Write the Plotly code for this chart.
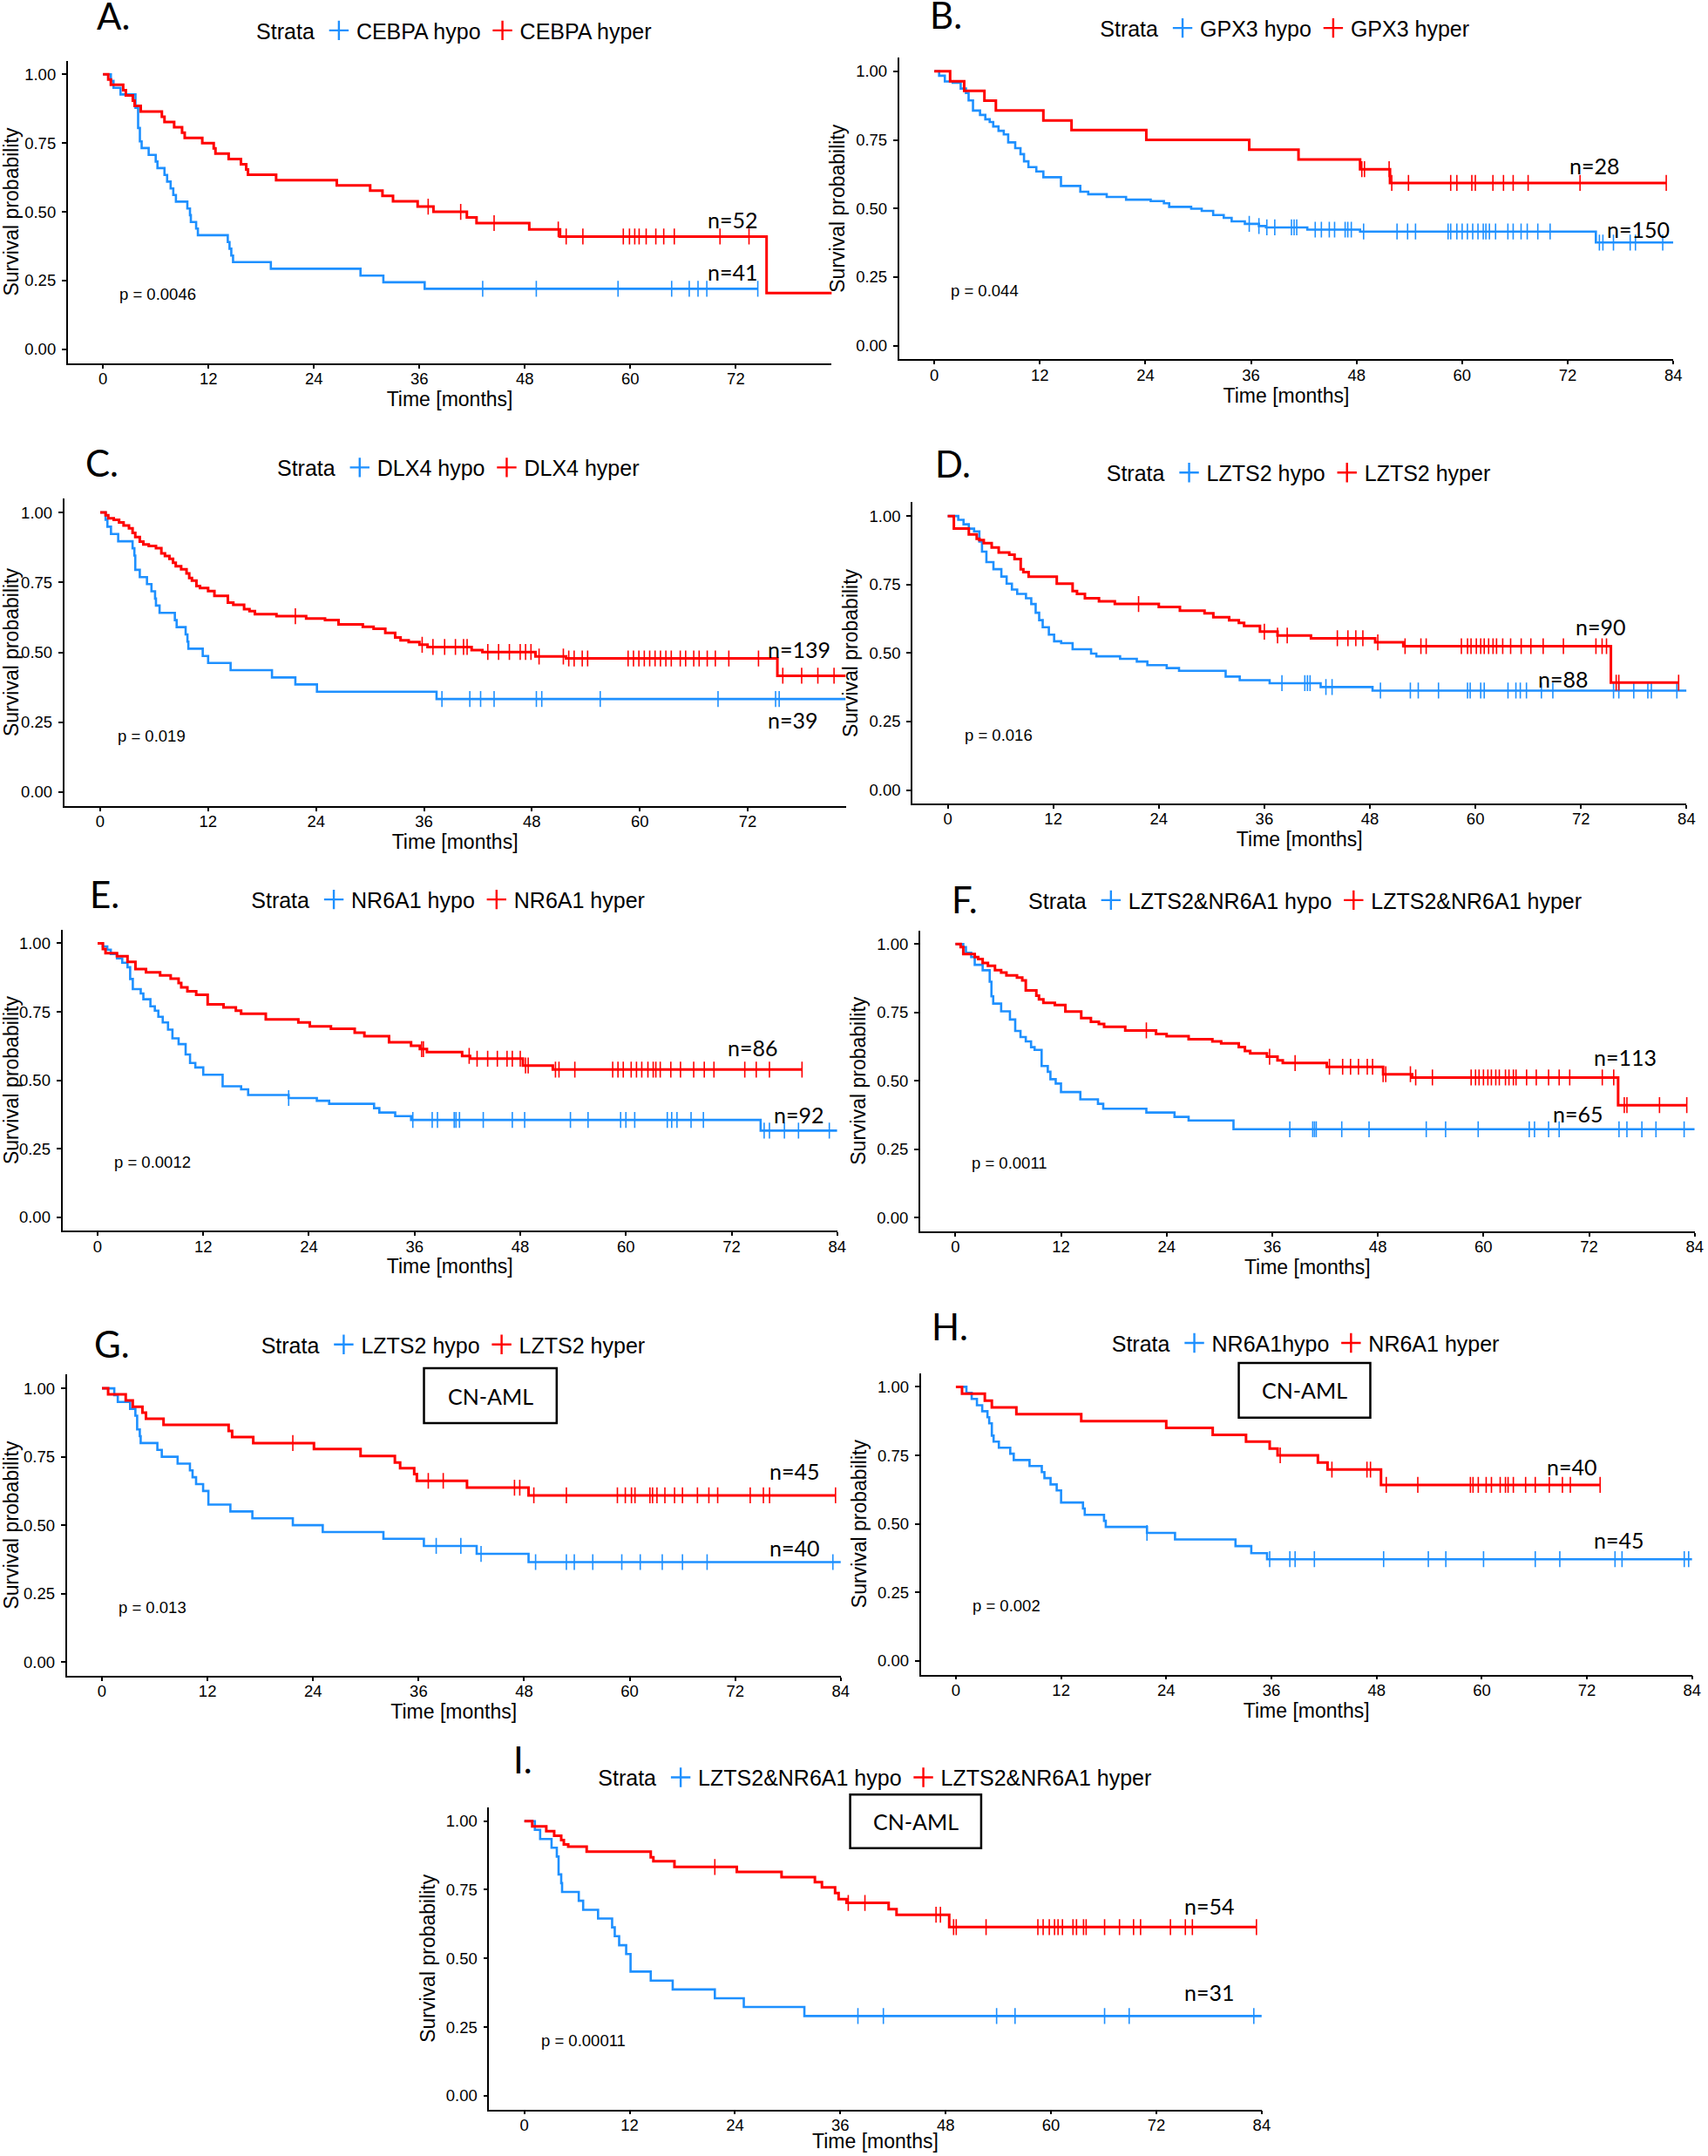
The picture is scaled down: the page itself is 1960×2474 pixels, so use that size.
import plotly.graph_objects as go

# ---------------- data (time in months, survival probability) ----------------
# A. CEBPA
a_hypo_t = [0, 0.9, 1.2, 2.0, 3.7, 4.0, 4.2, 4.4, 5.2, 6.0, 6.2, 7.0, 7.3, 7.7, 8.0, 8.3, 9.6, 9.9, 10.0,
            10.6, 10.8, 14.2, 14.4, 14.6, 14.8, 19.1, 29.3, 31.9, 36.6, 74.5]
a_hypo_s = [1.0, 0.976, 0.951, 0.927, 0.878, 0.805, 0.756, 0.732, 0.707, 0.683, 0.659, 0.634, 0.61, 0.585,
            0.561, 0.537, 0.512, 0.488, 0.463, 0.439, 0.415, 0.39, 0.366, 0.341, 0.317, 0.293, 0.268, 0.244,
            0.22, 0.22]
a_hypo_cens = [43.2, 49.3, 58.6, 64.7, 66.7, 67.7, 68.7, 74.5]
a_hyper_t = [0, 0.6, 0.9, 2.3, 2.6, 3.4, 3.6, 4.3, 6.7, 7.0, 8.1, 9.0, 9.3, 11.3, 12.6, 12.8, 14.3, 15.7, 16.3,
             16.5, 19.7, 26.6, 30.4, 31.8, 33.0, 35.8, 37.6, 41.4, 42.5, 48.5, 52.0, 75.5, 83.0]
a_hyper_s = [1.0, 0.981, 0.962, 0.942, 0.923, 0.904, 0.885, 0.865, 0.846, 0.827, 0.808, 0.788, 0.769, 0.75,
             0.731, 0.712, 0.692, 0.673, 0.654, 0.635, 0.615, 0.596, 0.577, 0.558, 0.538, 0.519, 0.50, 0.48,
             0.459, 0.436, 0.41, 0.205, 0.205]
a_hyper_cens = [37.0, 40.7, 44.5, 51.8, 52.7, 54.6, 59.2, 59.9, 60.5, 61.0, 61.8, 62.9, 63.8, 65.0, 70.2, 73.5]

# B. GPX3
b_hypo_t = [0, 0.55, 1.2, 2.1, 3.0, 3.6, 3.9, 4.4, 5.2, 5.8, 6.3, 6.7, 7.3, 7.9, 8.4, 9.2, 9.8, 10.2, 10.7,
            11.6, 12.4, 14.4, 16.6, 17.5, 19.6, 21.8, 24.6, 26.1, 26.7, 29.2, 30.4, 31.7, 32.9, 33.8, 35.3,
            36.9, 37.7, 42.4, 48.4, 75.2, 84]
b_hypo_s = [1.0, 0.984, 0.963, 0.958, 0.937, 0.921, 0.894, 0.857, 0.841, 0.825, 0.815, 0.799, 0.783, 0.770,
            0.741, 0.720, 0.698, 0.672, 0.651, 0.635, 0.614, 0.582, 0.561, 0.552, 0.542, 0.532, 0.527, 0.519,
            0.506, 0.499, 0.491, 0.476, 0.466, 0.453, 0.444, 0.436, 0.431, 0.423, 0.416, 0.376, 0.376]
b_hypo_cens = [35.8, 36.9, 37.8, 38.7, 40.6, 40.9, 41.2, 43.3, 44.0, 44.9, 45.5, 46.7, 47.0, 47.4, 48.8, 52.6,
               53.8, 54.7, 58.4, 58.7, 59.4, 60.0, 60.6, 61.2, 61.8, 62.4, 62.7, 63.1, 63.8, 65.2, 65.8, 66.7,
               67.4, 68.6, 70.0, 75.6, 76.0, 77.2, 79.1, 79.7, 82.8]
b_hyper_t = [0, 1.8, 3.4, 5.7, 7.0, 12.4, 15.6, 24.1, 35.8, 41.4, 48.4, 51.8, 83.2]
b_hyper_s = [1.0, 0.964, 0.929, 0.893, 0.857, 0.821, 0.786, 0.75, 0.714, 0.679, 0.643, 0.593, 0.593]
b_hyper_cens = [48.6, 48.9, 51.7, 52.0, 53.9, 58.7, 59.4, 61.1, 61.5, 63.5, 64.7, 65.8, 67.5, 73.4, 83.2]

# C. DLX4
c_hypo_t = [0, 0.6, 0.8, 1.2, 2.0, 3.6, 3.8, 3.9, 4.4, 5.2, 5.7, 6.1, 6.2, 6.6, 8.3, 8.5, 9.5, 9.7, 9.8,
            11.4, 12.0, 14.5, 19.1, 21.7, 24.1, 37.4, 82.9]
c_hypo_s = [1.0, 0.974, 0.949, 0.923, 0.897, 0.872, 0.846, 0.795, 0.769, 0.744, 0.718, 0.692, 0.667, 0.641,
            0.615, 0.59, 0.564, 0.538, 0.513, 0.487, 0.462, 0.436, 0.41, 0.385, 0.359, 0.333, 0.333]
c_hypo_cens = [38.0, 41.1, 42.3, 43.8, 48.5, 49.1, 55.6, 68.7, 75.1, 75.5]
c_hyper_t = [0, 0.6, 0.9, 1.5, 2.1, 2.6, 3.2, 3.6, 3.9, 4.4, 4.8, 5.4, 6.2, 6.8, 7.2, 7.7, 8.1, 8.4, 9.0, 9.6,
             9.9, 10.2, 10.7, 11.1, 12.0, 12.7, 14.2, 14.8, 16.0, 16.6, 17.2, 19.6, 22.9, 25.0, 26.5, 29.2,
             30.4, 31.7, 32.8, 33.4, 34.3, 35.5, 36.4, 41.3, 42.5, 48.4, 51.8, 75.3, 82.9]
c_hyper_s = [1.0, 0.990, 0.979, 0.974, 0.964, 0.953, 0.943, 0.927, 0.912, 0.896, 0.886, 0.880, 0.872, 0.854,
             0.844, 0.834, 0.820, 0.808, 0.797, 0.782, 0.766, 0.756, 0.737, 0.730, 0.719, 0.702, 0.678, 0.670,
             0.654, 0.647, 0.636, 0.629, 0.621, 0.615, 0.600, 0.591, 0.584, 0.569, 0.553, 0.543, 0.537, 0.527,
             0.519, 0.508, 0.501, 0.485, 0.478, 0.416, 0.416]
c_hyper_cens = [21.7, 35.8, 37.0, 38.3, 39.5, 40.4, 40.8, 43.1, 44.3, 45.5, 46.7, 47.3, 47.9, 48.8, 51.5, 52.1,
                52.7, 53.6, 54.2, 58.7, 59.3, 59.9, 60.5, 61.1, 61.7, 62.3, 62.9, 63.5, 64.5, 65.1, 66.0, 66.6,
                67.5, 68.4, 69.9, 73.2, 75.9, 78.0, 79.8, 81.6]

# D. LZTS2
d_hypo_t = [0, 1.2, 1.8, 2.4, 3.0, 3.6, 3.9, 4.4, 5.2, 6.1, 6.7, 7.3, 7.9, 8.9, 9.5, 10.0, 10.4, 10.8, 11.5,
            12.1, 12.9, 14.2, 16.3, 16.9, 19.6, 21.5, 22.7, 24.9, 26.3, 31.6, 33.2, 36.6, 42.4, 48.3, 84]
d_hypo_s = [1.0, 0.986, 0.970, 0.954, 0.944, 0.907, 0.870, 0.832, 0.806, 0.779, 0.753, 0.732, 0.716, 0.700,
            0.679, 0.647, 0.620, 0.594, 0.567, 0.543, 0.536, 0.514, 0.498, 0.488, 0.479, 0.469, 0.456, 0.445,
            0.435, 0.414, 0.401, 0.390, 0.376, 0.363, 0.363]
d_hypo_cens = [38.0, 40.6, 40.9, 41.2, 43.0, 43.7, 49.2, 52.6, 53.5, 55.8, 59.1, 59.4, 60.6, 61.0, 63.7, 64.6,
               65.1, 65.8, 67.5, 68.8, 75.7, 76.3, 78.0, 79.6, 80.0, 82.9]
d_hyper_t = [0, 0.7, 2.4, 3.3, 3.6, 4.1, 5.0, 5.8, 7.0, 7.6, 8.3, 8.6, 9.2, 12.4, 14.2, 14.7, 15.6, 17.2, 19.0,
             24.0, 26.4, 29.2, 30.2, 32.0, 33.1, 33.7, 35.5, 37.5, 41.3, 48.6, 51.8, 75.4, 83.1]
d_hyper_s = [1.0, 0.954, 0.933, 0.917, 0.912, 0.901, 0.885, 0.867, 0.859, 0.843, 0.806, 0.795, 0.779, 0.753,
             0.726, 0.716, 0.700, 0.689, 0.679, 0.668, 0.655, 0.645, 0.631, 0.620, 0.610, 0.599, 0.578, 0.564,
             0.554, 0.539, 0.525, 0.392, 0.392]
d_hyper_cens = [21.7, 36.0, 37.5, 38.6, 44.3, 45.5, 46.4, 47.2, 48.9, 52.0, 53.8, 54.4, 58.4, 59.1, 59.5, 60.1,
                60.6, 61.0, 61.5, 62.0, 62.4, 63.1, 64.0, 65.2, 66.3, 67.7, 70.0, 73.7, 74.4, 74.9, 76.0, 76.3,
                83.1]

# E. NR6A1
e_hypo_t = [0, 0.6, 1.1, 1.5, 2.2, 2.8, 3.4, 3.7, 4.0, 4.9, 5.2, 6.0, 6.5, 6.9, 7.4, 8.0, 8.5, 9.2, 10.0, 10.5,
            11.1, 12.0, 14.2, 16.3, 17.1, 21.7, 24.9, 26.3, 31.4, 32.0, 33.8, 35.6, 75.3, 84]
e_hypo_s = [1.0, 0.989, 0.977, 0.961, 0.945, 0.929, 0.913, 0.870, 0.833, 0.817, 0.796, 0.770, 0.754, 0.732,
            0.711, 0.685, 0.653, 0.632, 0.594, 0.563, 0.547, 0.520, 0.478, 0.467, 0.446, 0.435, 0.425, 0.414,
            0.398, 0.382, 0.369, 0.355, 0.316, 0.316]
e_hypo_cens = [21.7, 35.8, 38.0, 38.6, 40.5, 40.7, 41.1, 43.8, 47.1, 48.5, 53.7, 55.7, 59.4, 60.0, 61.0, 64.7,
               65.2, 65.8, 67.4, 68.8, 75.7, 76.3, 78.0, 79.6, 83.1]
e_hyper_t = [0, 0.6, 0.9, 2.2, 3.4, 4.3, 5.5, 7.1, 8.3, 9.2, 9.5, 10.2, 11.2, 12.5, 14.3, 15.7, 16.3, 19.1, 22.8,
             24.1, 26.5, 29.2, 30.3, 33.1, 35.6, 36.6, 37.4, 41.4, 42.3, 48.3, 51.7, 80.0]
e_hyper_s = [1.0, 0.979, 0.964, 0.953, 0.932, 0.906, 0.894, 0.883, 0.871, 0.855, 0.839, 0.825, 0.812, 0.777,
             0.766, 0.754, 0.743, 0.722, 0.711, 0.697, 0.688, 0.674, 0.661, 0.639, 0.626, 0.614, 0.603, 0.589,
             0.579, 0.554, 0.539, 0.539]
e_hyper_cens = [36.8, 37.0, 42.2, 43.1, 44.3, 45.4, 46.5, 47.1, 48.0, 48.6, 48.9, 52.0, 52.4, 54.2, 58.5, 59.1,
                59.7, 60.6, 61.2, 61.8, 62.5, 63.1, 63.4, 63.9, 65.1, 66.2, 67.7, 68.9, 70.0, 73.5, 74.8, 76.3,
                80.0]

# F. LZTS2&NR6A1
f_hypo_t = [0, 0.9, 1.2, 1.8, 2.2, 3.1, 3.9, 4.1, 4.3, 5.2, 6.2, 6.8, 7.4, 8.0, 8.6, 9.0, 9.8, 10.5, 10.8, 11.4,
            12.0, 14.2, 16.2, 16.8, 21.7, 24.9, 26.5, 31.6, 84]
f_hypo_s = [1.0, 0.989, 0.968, 0.952, 0.924, 0.904, 0.862, 0.809, 0.782, 0.754, 0.724, 0.682, 0.660, 0.644,
            0.623, 0.613, 0.554, 0.533, 0.506, 0.490, 0.459, 0.432, 0.416, 0.398, 0.384, 0.368, 0.355, 0.323,
            0.323]
f_hypo_cens = [38.0, 40.6, 40.8, 41.0, 43.9, 47.0, 53.5, 55.7, 59.4, 65.2, 65.8, 67.4, 68.6, 75.4, 76.3, 78.0,
               79.6, 82.8]
f_hyper_t = [0, 0.6, 0.9, 2.2, 2.6, 3.1, 3.7, 4.5, 5.2, 5.8, 7.0, 7.6, 8.0, 9.2, 9.5, 10.0, 11.3, 12.5, 14.3,
             15.4, 16.3, 16.9, 19.3, 22.8, 24.0, 26.5, 29.2, 30.2, 32.2, 32.9, 33.5, 35.4, 36.6, 37.2, 42.2,
             48.6, 51.9, 75.3, 83.1]
f_hyper_s = [1.0, 0.989, 0.963, 0.952, 0.945, 0.931, 0.920, 0.904, 0.896, 0.885, 0.877, 0.867, 0.830, 0.811,
             0.798, 0.785, 0.777, 0.753, 0.729, 0.716, 0.708, 0.697, 0.684, 0.671, 0.663, 0.652, 0.644, 0.637,
             0.623, 0.609, 0.600, 0.588, 0.575, 0.565, 0.551, 0.524, 0.512, 0.411, 0.411]
f_hyper_cens = [21.7, 35.7, 38.6, 42.5, 44.0, 44.9, 45.8, 46.8, 47.4, 48.6, 48.9, 51.7, 52.3, 54.2, 58.6, 59.1,
                59.5, 60.0, 60.5, 60.9, 61.4, 61.8, 62.5, 62.9, 63.4, 63.7, 64.9, 66.0, 67.4, 68.6, 69.8, 73.5,
                74.8, 76.0, 76.3, 80.0, 83.1]

# G. LZTS2 (CN-AML)
g_hypo_t = [0, 1.4, 1.8, 3.2, 3.8, 4.0, 4.3, 4.4, 6.3, 6.8, 8.6, 10.0, 10.3, 10.7, 11.5, 12.1, 14.6, 17.1, 21.7,
            25.1, 32.0, 36.6, 42.6, 48.5, 84]
g_hypo_s = [1.0, 0.975, 0.95, 0.925, 0.90, 0.85, 0.825, 0.80, 0.775, 0.75, 0.725, 0.70, 0.675, 0.65, 0.625,
            0.575, 0.55, 0.525, 0.50, 0.475, 0.45, 0.424, 0.395, 0.365, 0.365]
g_hypo_cens = [38.0, 40.8, 43.1, 49.3, 52.8, 53.7, 55.8, 59.1, 61.2, 63.7, 66.0, 68.8, 83.1]
g_hyper_t = [0, 0.7, 2.7, 3.5, 4.6, 5.0, 7.0, 14.4, 14.8, 17.2, 24.1, 29.4, 33.3, 33.9, 35.5, 35.8, 41.5, 48.5,
             83.4]
g_hyper_s = [1.0, 0.978, 0.956, 0.933, 0.911, 0.889, 0.867, 0.844, 0.822, 0.80, 0.778, 0.753, 0.729, 0.708,
             0.687, 0.662, 0.637, 0.609, 0.609]
g_hyper_cens = [21.7, 37.1, 38.8, 46.9, 47.5, 49.1, 52.8, 58.6, 59.5, 60.2, 60.6, 62.3, 62.6, 63.1, 64.0, 65.1,
                66.0, 67.7, 69.0, 70.0, 73.7, 75.2, 75.9, 83.4]

# H. NR6A1 (CN-AML)
h_hypo_t = [0, 1.2, 1.8, 2.4, 3.0, 3.6, 3.8, 4.1, 4.3, 4.9, 6.2, 6.6, 8.4, 9.8, 10.1, 10.8, 11.5, 12.0, 14.5,
            14.7, 16.9, 17.1, 21.8, 25.0, 31.9, 33.7, 35.5, 84]
h_hypo_s = [1.0, 0.978, 0.956, 0.933, 0.911, 0.889, 0.867, 0.822, 0.80, 0.778, 0.756, 0.733, 0.711, 0.689,
            0.667, 0.644, 0.622, 0.578, 0.556, 0.533, 0.511, 0.489, 0.467, 0.443, 0.419, 0.393, 0.371, 0.371]
h_hypo_cens = [21.8, 35.8, 38.1, 38.7, 40.9, 48.8, 53.9, 55.9, 60.2, 66.1, 68.9, 75.2, 76.0, 83.1, 83.6]
h_hyper_t = [0, 0.7, 3.3, 4.1, 6.9, 14.3, 24.0, 29.3, 33.1, 35.8, 36.7, 41.3, 42.4, 48.5, 73.5]
h_hyper_s = [1.0, 0.975, 0.95, 0.925, 0.90, 0.875, 0.85, 0.825, 0.80, 0.775, 0.75, 0.724, 0.698, 0.642, 0.642]
h_hyper_cens = [37.0, 42.9, 46.9, 47.3, 49.1, 52.7, 58.7, 59.0, 59.6, 60.5, 61.1, 62.1, 62.7, 63.0, 63.6, 65.0,
                66.1, 67.7, 69.2, 70.1, 73.5]

# I. LZTS2&NR6A1 (CN-AML)
i_hypo_t = [0, 1.2, 1.8, 3.1, 3.7, 3.9, 4.2, 4.3, 6.2, 6.7, 8.4, 10.0, 10.3, 10.8, 11.6, 12.1, 14.4, 16.9, 21.7,
            25.0, 31.9, 84]
i_hypo_s = [1.0, 0.968, 0.935, 0.903, 0.871, 0.806, 0.774, 0.742, 0.710, 0.677, 0.645, 0.613, 0.581, 0.548,
            0.516, 0.452, 0.419, 0.387, 0.355, 0.323, 0.290, 0.290]
i_hypo_cens = [38.0, 40.9, 53.8, 55.9, 66.1, 68.9, 83.1]
i_hyper_t = [0, 0.9, 2.5, 3.4, 4.2, 4.5, 5.0, 7.1, 14.4, 14.7, 17.1, 24.2, 29.3, 33.1, 33.9, 35.4, 35.8, 36.7,
             41.5, 42.4, 48.4, 83.4]
i_hyper_s = [1.0, 0.981, 0.963, 0.947, 0.931, 0.915, 0.907, 0.889, 0.868, 0.854, 0.833, 0.815, 0.796, 0.778,
             0.759, 0.738, 0.716, 0.702, 0.679, 0.659, 0.614, 0.614]
i_hyper_cens = [21.7, 36.9, 38.8, 46.9, 47.4, 48.9, 49.2, 52.6, 58.5, 59.1, 59.8, 60.4, 60.8, 61.3, 62.5, 62.9,
                63.7, 64.0, 66.1, 67.8, 69.4, 70.2, 73.6, 75.3, 76.1, 83.4]

letters = ["A.", "B.", "C.", "D.", "E.", "F.", "G.", "H.", "I."]
genes = ["CEBPA", "GPX3", "DLX4", "LZTS2", "NR6A1", "LZTS2&NR6A1", "LZTS2", "NR6A1", "LZTS2&NR6A1"]
hypo_names = [g + " hypo" for g in genes]
hypo_names[7] = "NR6A1hypo"
hyper_names = [g + " hyper" for g in genes]
n_hypo = ["n=41", "n=150", "n=39", "n=88", "n=92", "n=65", "n=40", "n=45", "n=31"]
n_hyper = ["n=52", "n=28", "n=139", "n=90", "n=86", "n=113", "n=45", "n=40", "n=54"]
pvals = ["p = 0.0046", "p = 0.044", "p = 0.019", "p = 0.016", "p = 0.0012", "p = 0.0011",
         "p = 0.013", "p = 0.002", "p = 0.00011"]
cn_aml = [False, False, False, False, False, False, True, True, True]

series = [
    ((a_hypo_t, a_hypo_s, a_hypo_cens), (a_hyper_t, a_hyper_s, a_hyper_cens)),
    ((b_hypo_t, b_hypo_s, b_hypo_cens), (b_hyper_t, b_hyper_s, b_hyper_cens)),
    ((c_hypo_t, c_hypo_s, c_hypo_cens), (c_hyper_t, c_hyper_s, c_hyper_cens)),
    ((d_hypo_t, d_hypo_s, d_hypo_cens), (d_hyper_t, d_hyper_s, d_hyper_cens)),
    ((e_hypo_t, e_hypo_s, e_hypo_cens), (e_hyper_t, e_hyper_s, e_hyper_cens)),
    ((f_hypo_t, f_hypo_s, f_hypo_cens), (f_hyper_t, f_hyper_s, f_hyper_cens)),
    ((g_hypo_t, g_hypo_s, g_hypo_cens), (g_hyper_t, g_hyper_s, g_hyper_cens)),
    ((h_hypo_t, h_hypo_s, h_hypo_cens), (h_hyper_t, h_hyper_s, h_hyper_cens)),
    ((i_hypo_t, i_hypo_s, i_hypo_cens), (i_hyper_t, i_hyper_s, i_hyper_cens)),
]

# ---------------- layout (page geometry) ----------------
xdom = [[0.0399, 0.4894], [0.5291, 0.9847], [0.0378, 0.4977], [0.5370, 0.9925], [0.0367, 0.4927],
        [0.5415, 0.9973], [0.0393, 0.4948], [0.5419, 0.9958], [0.2879, 0.7425]]
ydom = [[0.8316, 0.9719], [0.8333, 0.9733], [0.6261, 0.7688], [0.6272, 0.7670], [0.4291, 0.5688],
        [0.4289, 0.5685], [0.2228, 0.3624], [0.2233, 0.3631], [0.0216, 0.1617]]
xmax = [82.9, 84, 82.9, 84, 84, 84, 84, 84, 84]
leg_pos = [(0.268, 0.9858), (0.7568, 0.9869), (0.2705, 0.7831), (0.765, 0.7807), (0.2645, 0.5827),
           (0.769, 0.5824), (0.2675, 0.3763), (0.7691, 0.3770), (0.5158, 0.1755)]
letter_pos = [(0.0561, 0.9927), (0.5462, 0.9930), (0.0494, 0.7855), (0.5494, 0.7848), (0.0517, 0.5854),
              (0.5590, 0.5830), (0.0542, 0.3766), (0.5472, 0.3847), (0.3009, 0.1839)]
# n= label anchor points in data units: (x_hyper, y_hyper, x_hypo, y_hypo)
n_pos = [(68.6, 0.471, 68.6, 0.28), (72.0, 0.656, 76.3, 0.423), (74.0, 0.511, 74.0, 0.257),
         (71.2, 0.596, 66.9, 0.405), (71.4, 0.621, 76.6, 0.374), (72.3, 0.588, 67.7, 0.379),
         (75.7, 0.697, 75.7, 0.418), (67.2, 0.708, 72.6, 0.443), (75.0, 0.69, 75.0, 0.378)]
box_pos = {6: (0.2495, 0.3276, 0.3399, 0.3654), 7: (0.7290, 0.8064, 0.3425, 0.3678),
           8: (0.5003, 0.5774, 0.1428, 0.1676)}

BLUE = "#1E90FF"
RED = "#FF0000"
ARIAL = "Liberation Sans, Arial, sans-serif"
CALI = "Lato, Carlito, Calibri, sans-serif"


def surv_at(ts, ss, c):
    val = ss[0]
    for t, s in zip(ts, ss):
        if t <= c:
            val = s
    return val


fig = go.Figure()
annotations = []
shapes = []
layout = {}

for i in range(9):
    sfx = "" if i == 0 else str(i + 1)
    xa, ya = "x" + sfx, "y" + sfx
    leg = "legend" + sfx
    hypo, hyper = series[i]
    for (ts, ss, cens), name, color, w in [(hypo, hypo_names[i], BLUE, 2.6), (hyper, hyper_names[i], RED, 3)]:
        fig.add_trace(go.Scatter(x=ts, y=ss, mode="lines", line=dict(color=color, width=w, shape="hv"),
                                 xaxis=xa, yaxis=ya, showlegend=False, hoverinfo="skip"))
        fig.add_trace(go.Scatter(x=cens, y=[surv_at(ts, ss, c) for c in cens], mode="markers",
                                 marker=dict(symbol="line-ns", size=13, color=color,
                                             line=dict(width=1.6, color=color)),
                                 xaxis=xa, yaxis=ya, showlegend=False, hoverinfo="skip"))
        # legend key: a small "+"
        fig.add_trace(go.Scatter(x=[None], y=[None], mode="markers", name=name,
                                 marker=dict(symbol="cross-thin", size=17, color=color,
                                             line=dict(width=2.4, color=color)),
                                 xaxis=xa, yaxis=ya, legend=leg, showlegend=True))

    # the bottom panel has no room below for a standard axis title -> drawn as annotation
    last = i == 8
    layout["xaxis" + sfx] = dict(
        domain=xdom[i], range=[-4, xmax[i]], anchor=ya, tickvals=list(range(0, 85, 12)),
        showline=True, linecolor="black", linewidth=1.8, ticks="outside", ticklen=4, tickwidth=1.5,
        tickcolor="black", showgrid=False, zeroline=False, ticklabelstandoff=-4,
        tickfont=dict(family=ARIAL, size=18.5, color="black"),
        title=dict(text="" if last else "Time [months]", font=dict(family=ARIAL, size=23, color="black"),
                   standoff=0))
    layout["yaxis" + sfx] = dict(
        domain=ydom[i], range=[-0.05, 1.05], anchor=xa, tickvals=[0, 0.25, 0.5, 0.75, 1.0],
        tickformat=".2f", showline=True, linecolor="black", linewidth=1.8, ticks="outside", ticklen=5,
        tickwidth=1.5, tickcolor="black", showgrid=False, zeroline=False, ticklabelstandoff=3,
        tickfont=dict(family=ARIAL, size=18.5, color="black"),
        title=dict(text="Survival probability", font=dict(family=ARIAL, size=23, color="black"), standoff=6))
    layout[leg] = dict(
        orientation="h", x=leg_pos[i][0], y=leg_pos[i][1], xanchor="center", yanchor="middle",
        title=dict(text="Strata", font=dict(family=ARIAL, size=25, color="black")),
        font=dict(family=ARIAL, size=25, color="black"), bgcolor="rgba(0,0,0,0)",
        itemwidth=30, traceorder="normal")

    if last:
        annotations.append(dict(text="Time [months]", xref="paper", yref="paper",
                                x=(xdom[i][0] + xdom[i][1]) / 2, y=0.001, xanchor="center", yanchor="bottom",
                                showarrow=False, font=dict(family=ARIAL, size=23, color="black")))
    annotations.append(dict(text=letters[i], xref="paper", yref="paper", x=letter_pos[i][0],
                            y=letter_pos[i][1], xanchor="left", yanchor="middle", showarrow=False,
                            font=dict(family=CALI, size=42, color="black")))
    annotations.append(dict(text=pvals[i], xref=xa, yref=ya, x=1.7, y=0.2, xanchor="left",
                            yanchor="middle", showarrow=False, font=dict(family=ARIAL, size=18.5, color="black")))
    nx1, ny1, nx0, ny0 = n_pos[i]
    annotations.append(dict(text=n_hyper[i], xref=xa, yref=ya, x=nx1, y=ny1, xanchor="left",
                            yanchor="middle", showarrow=False, font=dict(family=CALI, size=25, color="black")))
    annotations.append(dict(text=n_hypo[i], xref=xa, yref=ya, x=nx0, y=ny0, xanchor="left",
                            yanchor="middle", showarrow=False, font=dict(family=CALI, size=25, color="black")))
    if cn_aml[i]:
        x0, x1, y0, y1 = box_pos[i]
        shapes.append(dict(type="rect", xref="paper", yref="paper", x0=x0, x1=x1, y0=y0, y1=y1,
                           line=dict(color="black", width=2.5), fillcolor="white"))
        annotations.append(dict(text="CN-AML", xref="paper", yref="paper", x=(x0 + x1) / 2, y=(y0 + y1) / 2,
                                xanchor="center", yanchor="middle", showarrow=False,
                                font=dict(family=CALI, size=25, color="black")))

fig.update_layout(**layout)
fig.update_layout(width=1960, height=2474, margin=dict(l=0, r=0, t=0, b=0),
                  paper_bgcolor="white", plot_bgcolor="white",
                  annotations=annotations, shapes=shapes)

# remove the default page margin so the figure sits at the top-left corner of the window
fig.write_html("out.html", config={"displayModeBar": False},
               post_script="document.body.style.margin='0';")
